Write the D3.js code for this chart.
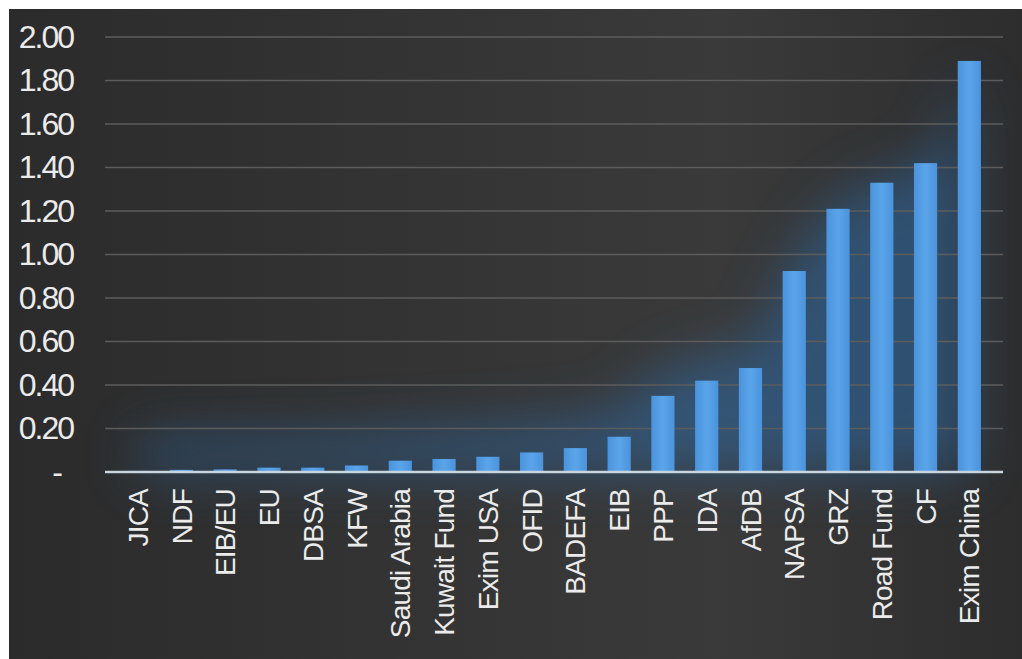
<!DOCTYPE html>
<html>
<head>
<meta charset="utf-8">
<script src="https://cdn.jsdelivr.net/npm/d3@7"></script>
<style>
html,body{margin:0;padding:0;background:#ffffff;}
svg{display:block;}
</style>
</head>
<body>
<svg id="chart" width="1022" height="659"></svg>
<script>
const categories = ["JICA","NDF","EIB/EU","EU","DBSA","KFW","Saudi Arabia","Kuwait Fund","Exim USA","OFID","BADEFA","EIB","PPP","IDA","AfDB","NAPSA","GRZ","Road Fund","CF","Exim China"];
const values = [0.005,0.01,0.012,0.02,0.02,0.03,0.052,0.06,0.07,0.09,0.11,0.162,0.35,0.42,0.478,0.924,1.21,1.33,1.42,1.89];
const yTicks = [0,0.2,0.4,0.6,0.8,1.0,1.2,1.4,1.6,1.8,2.0];

const svg = d3.select("#chart");
const defs = svg.append("defs");

const bg = defs.append("linearGradient").attr("id","bg").attr("x1","0").attr("y1","0").attr("x2","1").attr("y2","0");
bg.append("stop").attr("offset","0%").attr("stop-color","#2b2b2b");
bg.append("stop").attr("offset","70%").attr("stop-color","#3a3a3a");
bg.append("stop").attr("offset","100%").attr("stop-color","#2d2d2d");

const bar = defs.append("linearGradient").attr("id","bar").attr("x1","0").attr("y1","0").attr("x2","1").attr("y2","0");
bar.append("stop").attr("offset","0%").attr("stop-color","#4b93dc");
bar.append("stop").attr("offset","50%").attr("stop-color","#5aa5ea");
bar.append("stop").attr("offset","100%").attr("stop-color","#4b93dc");

const blur = defs.append("filter").attr("id","glow").attr("x","-30%").attr("y","-30%").attr("width","160%").attr("height","160%");
blur.append("feGaussianBlur").attr("stdDeviation","26");

svg.append("rect").attr("x",9).attr("y",9).attr("width",1013).attr("height",650).attr("fill","url(#bg)");

const x = d3.scaleBand().domain(categories).range([105.5,1001.5]).padding(0.47);
const y = d3.scaleLinear().domain([0,2]).range([472,37]);

// blue haze behind bars
const haze = d3.area()
  .x(d => x(d[0]) + x.bandwidth()/2)
  .y0(y(0))
  .y1(d => y(Math.min(2, d[1]*0.9 + 0.15)))
  .curve(d3.curveMonotoneX);
svg.append("path")
  .datum(categories.map((c,i)=>[c,values[i]]))
  .attr("d", haze)
  .attr("fill","#2f70b0")
  .attr("opacity",0.5)
  .attr("filter","url(#glow)");

// gridlines
svg.append("g").selectAll("line").data(yTicks.filter(t=>t>0)).join("line")
  .attr("x1",105).attr("x2",1003)
  .attr("y1",d=>y(d)).attr("y2",d=>y(d))
  .attr("stroke","#5c5c5c").attr("stroke-width",1.5);

// bars
svg.append("g").selectAll("rect").data(values).join("rect")
  .attr("x",(d,i)=>x(categories[i]))
  .attr("width",x.bandwidth())
  .attr("y",d=>y(d))
  .attr("height",d=>y(0)-y(d))
  .attr("fill","url(#bar)");

// baseline
svg.append("line").attr("x1",105).attr("x2",1003).attr("y1",y(0)).attr("y2",y(0))
  .attr("stroke","#c8d4de").attr("stroke-width",2.5);

// y axis
const yAxis = svg.append("g").attr("transform","translate(105,0)")
  .call(d3.axisLeft(y).tickValues(yTicks).tickSize(0).tickPadding(32)
    .tickFormat(d => d === 0 ? "-" : d3.format(".2f")(d)));
yAxis.select(".domain").remove();
yAxis.selectAll("text")
  .attr("fill","#ebebeb")
  .style("font-family","'Liberation Sans', Arial, sans-serif")
  .style("font-size","32px")
  .style("letter-spacing","-2px")
  .attr("dx", d => d === 0 ? -12 : 0);

// x axis labels
const xAxis = svg.append("g").attr("transform","translate(0,472)")
  .call(d3.axisBottom(x).tickSize(0).tickPadding(0));
xAxis.select(".domain").remove();
xAxis.selectAll("text")
  .attr("fill","#ebebeb")
  .style("font-family","'Liberation Sans', Arial, sans-serif")
  .style("font-size","28px")
  .style("letter-spacing","-0.8px")
  .attr("text-anchor","end")
  .attr("transform","rotate(-90)")
  .attr("x",-17)
  .attr("y",0)
  .attr("dy","0.36em");
</script>
</body>
</html>
